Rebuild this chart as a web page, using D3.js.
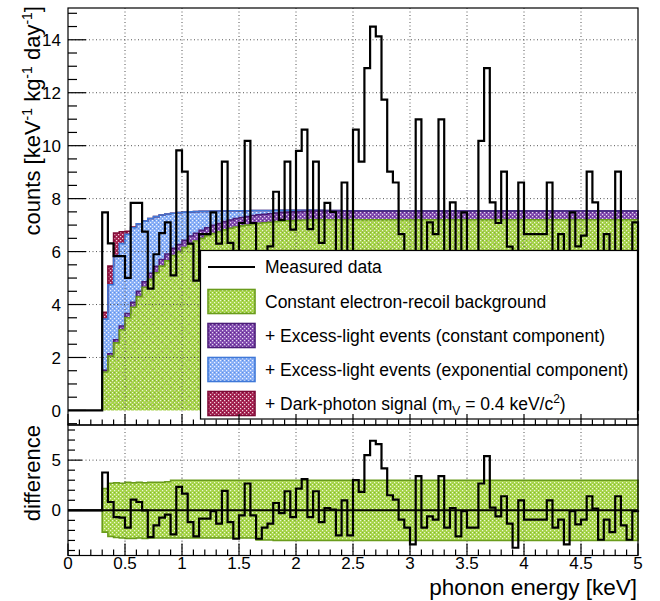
<!DOCTYPE html>
<html><head><meta charset="utf-8">
<script src="https://cdn.jsdelivr.net/npm/d3@7"></script>
<style>
body{margin:0;background:#fff}
text{font-family:"Liberation Sans",Arial,Helvetica,sans-serif;fill:#000}
</style>
</head><body>
<svg id="c" width="660" height="601"></svg>
<script>
// ---------------- data (bins of 0.05 keV starting at 0.30 keV) ----------------
const firstBin = 0.3, binWidth = 0.05;
const measured = [
 7.48, 6.31, 5.83, 5.83, 5.01, 7.84, 7.84, 6.75, 4.6, 5.9,
 6.7, 7.1, 5.1, 9.82, 9.02, 6.3, 4.9, 6.66, 6.66, 7.48,
 6.3, 9.40, 6.33, 4.67, 7.08, 10.18, 7.08, 4.67, 5.8, 6.2,
 8.26, 7.2, 9.40, 6.83, 9.8, 10.61, 6.85, 9.40, 6.33, 7.84,
 7.5, 5.0, 8.61, 5.0, 10.61, 9.40, 12.93, 14.5, 14.13, 11.74,
 9.02, 8.61, 6.66, 5.79, 4.12, 10.99, 5.79, 7.10, 6.66, 10.99,
 5.79, 7.86, 4.92, 7.48, 5.79, 5.79, 10.18, 12.93, 7.86, 7.08,
 9.02, 6.19, 3.79, 8.61, 6.66, 6.66, 6.66, 6.66, 8.61, 5.79,
 6.66, 4.12, 7.48, 6.2, 6.6, 9.02, 7.86, 4.59, 6.66, 5.35,
 9.02, 6.02, 4.59, 7.10];
const erBackground = [
 1.45, 2.05, 2.55, 3.05, 3.5, 3.9, 4.3, 4.65, 4.95, 5.2,
 5.45, 5.65, 5.85, 6.0, 6.15, 6.3, 6.4, 6.5, 6.6, 6.68,
 6.75, 6.82, 6.88, 6.93, 6.97, 7.0, 7.04, 7.07, 7.09, 7.11,
 7.13, 7.15, 7.16, 7.17, 7.18, 7.19, 7.2, 7.2, 7.2, 7.2,
 7.2, 7.2, 7.2, 7.2, 7.2, 7.2, 7.2, 7.2, 7.2, 7.2,
 7.2, 7.2, 7.2, 7.2, 7.2, 7.2, 7.2, 7.2, 7.2, 7.2,
 7.2, 7.2, 7.2, 7.2, 7.2, 7.2, 7.2, 7.2, 7.2, 7.2,
 7.2, 7.2, 7.2, 7.2, 7.2, 7.2, 7.2, 7.2, 7.2, 7.2,
 7.2, 7.2, 7.2, 7.2, 7.2, 7.2, 7.2, 7.2, 7.2, 7.2,
 7.2, 7.2, 7.2, 7.2];
const excessConst = [
 0.07, 0.09, 0.12, 0.14, 0.16, 0.18, 0.2, 0.21, 0.23, 0.24,
 0.25, 0.26, 0.27, 0.27, 0.28, 0.29, 0.29, 0.3, 0.3, 0.31,
 0.31, 0.31, 0.31, 0.32, 0.32, 0.32, 0.32, 0.32, 0.32, 0.32,
 0.33, 0.33, 0.33, 0.33, 0.33, 0.33, 0.33, 0.33, 0.33, 0.33,
 0.33, 0.33, 0.33, 0.33, 0.33, 0.33, 0.33, 0.33, 0.33, 0.33,
 0.33, 0.33, 0.33, 0.33, 0.33, 0.33, 0.33, 0.33, 0.33, 0.33,
 0.33, 0.33, 0.33, 0.33, 0.33, 0.33, 0.33, 0.33, 0.33, 0.33,
 0.33, 0.33, 0.33, 0.33, 0.33, 0.33, 0.33, 0.33, 0.33, 0.33,
 0.33, 0.33, 0.33, 0.33, 0.33, 0.33, 0.33, 0.33, 0.33, 0.33,
 0.33, 0.33, 0.33, 0.33];
const excessExp = [
 1.93, 2.61, 3.18, 3.11, 2.99, 2.82, 2.55, 2.29, 2.07, 1.88,
 1.68, 1.51, 1.33, 1.2, 1.06, 0.91, 0.82, 0.72, 0.62, 0.54,
 0.47, 0.40, 0.35, 0.29, 0.25, 0.22, 0.19, 0.16, 0.14, 0.12,
 0.10, 0.08, 0.07, 0.06, 0.05, 0.04, 0.04, 0.03, 0.03, 0.02,
 0.02, 0.02, 0.01, 0.01, 0.01, 0.01, 0.01, 0.01, 0.01, 0.01,
 0, 0, 0, 0, 0, 0, 0, 0, 0, 0,
 0, 0, 0, 0, 0, 0, 0, 0, 0, 0,
 0, 0, 0, 0, 0, 0, 0, 0, 0, 0,
 0, 0, 0, 0, 0, 0, 0, 0, 0, 0,
 0, 0, 0, 0];
const darkPhoton = [
 0.26, 0.7, 0.85, 0.45, 0.12, 0.03, 0, 0, 0, 0,
 0, 0, 0, 0, 0, 0, 0, 0, 0, 0,
 0, 0, 0, 0, 0, 0, 0, 0, 0, 0,
 0, 0, 0, 0, 0, 0, 0, 0, 0, 0,
 0, 0, 0, 0, 0, 0, 0, 0, 0, 0,
 0, 0, 0, 0, 0, 0, 0, 0, 0, 0,
 0, 0, 0, 0, 0, 0, 0, 0, 0, 0,
 0, 0, 0, 0, 0, 0, 0, 0, 0, 0,
 0, 0, 0, 0, 0, 0, 0, 0, 0, 0,
 0, 0, 0, 0];
const difference = [
 3.77, 0.83, -0.67, -0.73, -1.73, 1.07, 0.83, 0.0, -2.67, -1.5,
 -0.73, -0.43, -2.4, 2.33, 1.67, -1.17, -2.6, -0.83, -0.83, -0.07,
 -1.33, 1.93, -1.17, -2.83, -0.5, 2.67, -0.5, -2.83, -1.73, -1.33,
 0.73, -0.27, 1.9, -0.67, 2.17, 3.1, -0.67, 1.9, -1.17, 0.23,
 0.07, -2.5, 1.0, -2.5, 3.0, 1.83, 5.5, 6.93, 6.6, 4.17,
 1.5, 1.07, -0.93, -1.73, -3.4, 3.4, -1.73, -0.6, -0.93, 3.4,
 -1.73, 0.23, -2.6, -0.07, -1.73, -1.73, 2.67, 5.4, 0.27, -0.6,
 1.4, -1.33, -3.73, 1.0, -0.93, -0.93, -0.93, -0.93, 1.0, -1.73,
 -0.93, -3.4, -0.07, -1.4, -0.93, 1.4, 0.17, -2.93, -0.93, -2.17,
 1.4, -1.5, -2.93, -0.07];
const bandUpper = [
 2.17, 2.7, 2.75, 2.7, 2.8, 2.75, 2.8, 2.75, 2.8, 2.8,
 2.8, 2.85, 3.0, 3.0, 3.0, 3.0, 3.0, 3.0, 3.0, 3.0,
 3.0, 3.0, 3.0, 3.0, 3.0, 3.0, 3.0, 3.0, 3.0, 3.0,
 3.0, 3.0, 3.0, 3.0, 3.0, 3.0, 3.0, 3.0, 3.0, 3.0,
 3.0, 3.0, 3.0, 3.0, 3.0, 3.0, 3.0, 3.0, 3.0, 3.0,
 3.0, 3.0, 3.0, 3.0, 3.0, 3.0, 3.0, 3.0, 3.0, 3.0,
 3.0, 3.0, 3.0, 3.0, 3.0, 3.0, 3.0, 3.0, 3.0, 3.0,
 3.0, 3.0, 3.0, 3.0, 3.0, 3.0, 3.0, 3.0, 3.0, 3.0,
 3.0, 3.0, 3.0, 3.0, 3.0, 3.0, 3.0, 3.0, 3.0, 3.0,
 3.0, 3.0, 3.0, 3.0];
const bandLower = [
 -2.17, -2.6, -2.7, -2.75, -2.8, -2.8, -2.75, -2.8, -2.75, -2.75,
 -2.75, -2.75, -2.75, -2.75, -2.75, -2.75, -2.75, -2.75, -2.75, -2.75,
 -2.75, -2.75, -2.75, -2.75, -2.75, -2.75, -2.75, -2.95, -2.95, -2.95,
 -3.0, -3.0, -3.0, -3.0, -3.0, -3.0, -3.0, -3.0, -3.0, -3.0,
 -3.0, -3.0, -3.0, -3.0, -3.0, -3.0, -3.0, -3.0, -3.0, -3.0,
 -3.0, -3.0, -3.0, -3.0, -3.0, -3.0, -3.0, -3.0, -3.0, -3.0,
 -3.0, -3.0, -3.0, -3.0, -3.0, -3.0, -3.0, -3.0, -3.0, -3.0,
 -3.0, -3.0, -3.0, -3.0, -3.0, -3.0, -3.0, -3.0, -3.0, -3.0,
 -3.0, -3.0, -3.0, -3.0, -3.0, -3.0, -3.0, -3.0, -3.0, -3.0,
 -3.0, -3.0, -3.0, -3.0];
const xTickLabels = [0, 0.5, 1, 1.5, 2, 2.5, 3, 3.5, 4, 4.5, 5];
const yTickLabelsTop = [0, 2, 4, 6, 8, 10, 12, 14];
const yTickLabelsBottom = [0, 5];
const legendLabels = [
 "Measured data",
 "Constant electron-recoil background",
 "+ Excess-light events (constant component)",
 "+ Excess-light events (exponential component)",
 "+ Dark-photon signal (m"
];

// ---------------- layout ----------------
const svg = d3.select("#c");
const X0 = 68, X1 = 638;
const x = d3.scaleLinear([0, 5], [X0, X1]);
const yTop = d3.scaleLinear([-0.55, 15.2], [425, 8]);
const yBot = d3.scaleLinear([-4.5, 8.5], [555.5, 425]);
const lows = measured.map((_, i) => firstBin + i * binWidth);

const defs = svg.append("defs");
function dotPattern(id, base, dot, dark) {
  const p = defs.append("pattern").attr("id", id).attr("patternUnits", "userSpaceOnUse")
    .attr("width", 4).attr("height", 4);
  p.append("rect").attr("width", 4).attr("height", 4).attr("fill", base);
  p.append("rect").attr("x", 0).attr("y", 0).attr("width", 1.2).attr("height", 1.2).attr("fill", dot);
  p.append("rect").attr("x", 2).attr("y", 2).attr("width", 1.2).attr("height", 1.2).attr("fill", dot);
  p.append("rect").attr("x", 2).attr("y", 0).attr("width", 1).attr("height", 1).attr("fill", dark);
}
dotPattern("pGreen", "#a6d449", "#eef8d6", "#84ba2a");
dotPattern("pPurple", "#7f48ad", "#e6d8f2", "#5a2787");
dotPattern("pBlue", "#86adf6", "#eef3fe", "#5d8fe8");
dotPattern("pRed", "#a3204f", "#f2d3de", "#7c0c35");
const hatch = defs.append("pattern").attr("id", "pHatch").attr("patternUnits", "userSpaceOnUse")
  .attr("width", 9).attr("height", 9);
hatch.append("path").attr("d", "M0,0 L9,9 M9,0 L0,9").attr("stroke", "#8a6a5a")
  .attr("stroke-width", 0.8).attr("stroke-dasharray", "2,2").attr("fill", "none").attr("opacity", 0.7);

const colors = {
  er: {fill: "url(#pGreen)", line: "#6a9c1c"},
  ec: {fill: "url(#pPurple)", line: "#4b1d78"},
  ex: {fill: "url(#pBlue)", line: "#3f78d8"},
  dp: {fill: "url(#pRed)", line: "#7e0a36"}
};

// step helpers
function stepPts(vals, ys) {
  const pts = [];
  vals.forEach((v, i) => { pts.push([x(lows[i]), ys(v)], [x(lows[i] + binWidth), ys(v)]); });
  return pts;
}
function bandPath(lo, hi, ys) {
  const top = stepPts(hi, ys), bot = stepPts(lo, ys).reverse();
  return d3.line()(top.concat(bot)) + "Z";
}
function outlinePath(vals, ys, startX) {
  const pts = [[x(startX), ys(0)], [x(lows[0]), ys(0)]].concat(stepPts(vals, ys));
  pts.push([x(lows[lows.length - 1] + binWidth), ys(0)]);
  return d3.line()(pts);
}

// ---------------- top panel ----------------
const rows = measured.map((_, i) => ({er: erBackground[i], ec: excessConst[i], ex: excessExp[i], dp: darkPhoton[i]}));
const keys = ["er", "ec", "ex", "dp"];
const stacked = d3.stack().keys(keys)(rows);

const gTop = svg.append("g");
stacked.forEach(layer => {
  const lo = layer.map(d => d[0]), hi = layer.map(d => d[1]);
  gTop.append("path").attr("d", bandPath(lo, hi, yTop)).attr("fill", colors[layer.key].fill);
  if (layer.key === "er") {
    gTop.append("path").attr("d", bandPath(lo, hi, yTop)).attr("fill", "url(#pHatch)").attr("opacity", 0.6);
  }
});
stacked.slice().reverse().forEach(layer => {
  const hi = layer.map(d => d[1]);
  gTop.append("path").attr("d", outlinePath(hi, yTop, firstBin)).attr("fill", "none")
    .attr("stroke", colors[layer.key].line).attr("stroke-width", 1.6);
});

// grid
const gridStyle = s => s.attr("stroke", "#555").attr("stroke-width", 1).attr("stroke-dasharray", "1,2.5");
[0.5,1,1.5,2,2.5,3,3.5,4,4.5].forEach(v => {
  svg.append("line").attr("x1", x(v)).attr("x2", x(v)).attr("y1", 8).attr("y2", 425).call(gridStyle);
  svg.append("line").attr("x1", x(v)).attr("x2", x(v)).attr("y1", 425).attr("y2", 555.5).call(gridStyle);
});
yTickLabelsTop.filter(v => v > 0).forEach(v => {
  svg.append("line").attr("x1", X0).attr("x2", X1).attr("y1", yTop(v)).attr("y2", yTop(v)).call(gridStyle);
});
svg.append("line").attr("x1", X0).attr("x2", X1).attr("y1", yBot(5)).attr("y2", yBot(5)).call(gridStyle);

// measured data
svg.append("path").attr("d", outlinePath(measured, yTop, 0)).attr("fill", "none")
  .attr("stroke", "#000").attr("stroke-width", 2.2).attr("stroke-linejoin", "miter");

// legend
const lg = svg.append("g");
lg.append("rect").attr("x", 200.5).attr("y", 250.5).attr("width", 437).attr("height", 168.5)
  .attr("fill", "#fff").attr("stroke", "#000").attr("stroke-width", 1.2);
const rowY = [267, 301.5, 335.5, 369.5, 403.5];
lg.append("line").attr("x1", 208).attr("x2", 255).attr("y1", rowY[0]).attr("y2", rowY[0])
  .attr("stroke", "#000").attr("stroke-width", 2.2);
keys.forEach((k, i) => {
  lg.append("rect").attr("x", 208).attr("y", rowY[i + 1] - 12).attr("width", 47).attr("height", 24)
    .attr("fill", colors[k].fill).attr("stroke", colors[k].line).attr("stroke-width", 1.6);
});
legendLabels.forEach((t, i) => {
  const tx = lg.append("text").attr("x", 265).attr("y", rowY[i]).attr("dy", "0.36em")
    .attr("font-size", 17.5).text(t);
  if (i === 4) {
    tx.append("tspan").attr("font-size", 12).attr("dy", 5).text("V");
    tx.append("tspan").attr("dy", -5).text(" = 0.4 keV/c");
    tx.append("tspan").attr("font-size", 12).attr("dy", -7).text("2");
    tx.append("tspan").attr("dy", 7).text(")");
  }
});

// ---------------- bottom panel ----------------
svg.append("path").attr("d", bandPath(bandLower, bandUpper, yBot)).attr("fill", "url(#pGreen)")
  .attr("stroke", "#6a9c1c").attr("stroke-width", 1.6);
[0.5,1,1.5,2,2.5,3,3.5,4,4.5].forEach(v => {
  svg.append("line").attr("x1", x(v)).attr("x2", x(v)).attr("y1", yBot(3.2)).attr("y2", yBot(-3.2)).call(gridStyle).attr("opacity", 0.5);
});
svg.append("line").attr("x1", X0).attr("x2", X1).attr("y1", yBot(0)).attr("y2", yBot(0))
  .attr("stroke", "#000").attr("stroke-width", 2);
svg.append("path").attr("d", outlinePath(difference, yBot, 0)).attr("fill", "none")
  .attr("stroke", "#000").attr("stroke-width", 2.2);

// ---------------- axes / frames ----------------
const frame = svg.append("g").attr("fill", "none").attr("stroke", "#000").attr("stroke-width", 1.2);
frame.append("rect").attr("x", X0).attr("y", 8).attr("width", X1 - X0).attr("height", 417);
frame.append("rect").attr("x", X0).attr("y", 425).attr("width", X1 - X0).attr("height", 130.5);

const ticks = svg.append("g").attr("stroke", "#000").attr("stroke-width", 1.2);
const xMinor = d3.range(0, 5.0001, 0.1);
xMinor.forEach(v => {
  const major = Math.abs(v * 2 - Math.round(v * 2)) < 1e-6;
  ticks.append("line").attr("x1", x(v)).attr("x2", x(v)).attr("y1", 425).attr("y2", 425 - (major ? 11 : 5.5));
  ticks.append("line").attr("x1", x(v)).attr("x2", x(v)).attr("y1", 555.5).attr("y2", 555.5 - (major ? 12 : 6));
});
d3.range(-0.5, 15.01, 0.5).forEach(v => {
  const major = Math.abs(v / 2 - Math.round(v / 2)) < 1e-6;
  ticks.append("line").attr("x1", X0).attr("x2", X0 + (major ? 18 : 9)).attr("y1", yTop(v)).attr("y2", yTop(v));
});
d3.range(-4, 8.01, 1).forEach(v => {
  const major = v % 5 === 0;
  ticks.append("line").attr("x1", X0).attr("x2", X0 + (major ? 14 : 7)).attr("y1", yBot(v)).attr("y2", yBot(v));
});

// tick labels
xTickLabels.forEach(v => {
  svg.append("text").attr("x", x(v)).attr("y", 569).attr("text-anchor", "middle").attr("font-size", 17).text(String(v));
});
yTickLabelsTop.forEach(v => {
  svg.append("text").attr("x", 61).attr("y", yTop(v)).attr("dy", "0.36em").attr("text-anchor", "end").attr("font-size", 17).text(String(v));
});
yTickLabelsBottom.forEach(v => {
  svg.append("text").attr("x", 61).attr("y", yBot(v)).attr("dy", "0.36em").attr("text-anchor", "end").attr("font-size", 17).text(String(v));
});

// titles
svg.append("text").attr("x", 637).attr("y", 595).attr("text-anchor", "end").attr("font-size", 22.5).text("phonon energy [keV]");
const yt = svg.append("text").attr("transform", "translate(40,6) rotate(-90)").attr("text-anchor", "end").attr("font-size", 22);
yt.append("tspan").text("counts [keV");
yt.append("tspan").attr("font-size", 14).attr("dy", -8).text("-1");
yt.append("tspan").attr("dy", 8).text(" kg");
yt.append("tspan").attr("font-size", 14).attr("dy", -8).text("-1");
yt.append("tspan").attr("dy", 8).text(" day");
yt.append("tspan").attr("font-size", 14).attr("dy", -8).text("-1");
yt.append("tspan").attr("dy", 8).text("]");
svg.append("text").attr("transform", "translate(40,425) rotate(-90)").attr("text-anchor", "end").attr("font-size", 22).text("difference");
</script>
</body></html>
